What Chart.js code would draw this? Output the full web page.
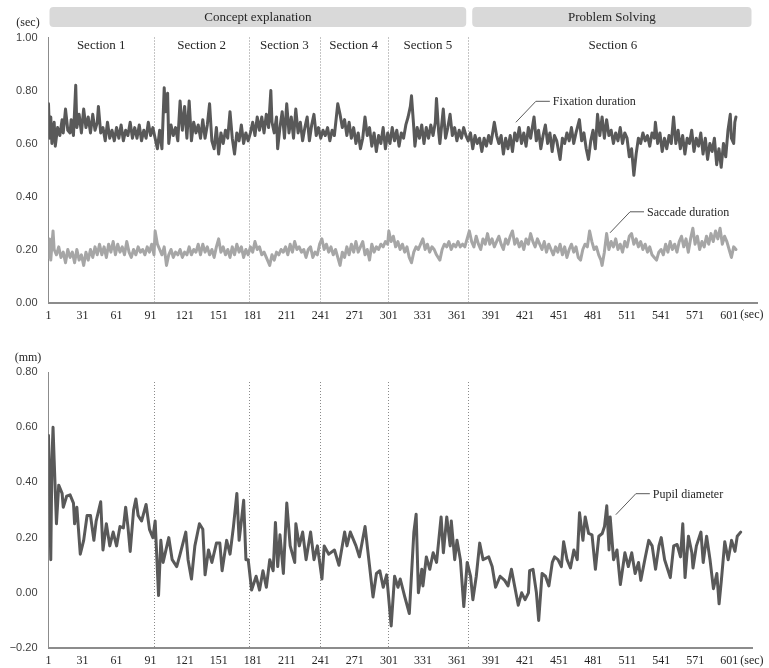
<!DOCTYPE html>
<html>
<head>
<meta charset="utf-8">
<script src="https://cdn.jsdelivr.net/npm/chart.js@4.4.0/dist/chart.umd.min.js"></script>
<style>
  html, body { margin: 0; padding: 0; background: #fff; }
  #wrap { position: relative; width: 769px; height: 668px; }
  #top { position: absolute; left: 0; top: 0; }
  #bottom { position: absolute; left: 0; top: 330px; }
</style>
</head>
<body>
<div id="wrap">
  <canvas id="top" width="769" height="330"></canvas>
  <canvas id="bottom" width="769" height="338"></canvas>
</div>
<script>
// x axis labels (sec) and section boundaries
const xTicks = [1, 31, 61, 91, 121, 151, 181, 211, 241, 271, 301, 331, 361, 391, 421, 451, 481, 511, 541, 571, 601];
const sectionBounds = [94, 178, 240, 300, 371];
const sectionNames = ['Section 1', 'Section 2', 'Section 3', 'Section 4', 'Section 5', 'Section 6'];
const phaseNames = ['Concept explanation', 'Problem Solving'];

// fixation duration (sec)
const fixationSec = [
  1, 2, 3, 4, 6, 7, 9, 11, 13, 14,
  16, 18, 20, 21, 23, 25, 26, 28, 30, 32,
  34, 36, 38, 40, 42, 44, 45, 47, 49, 51,
  53, 55, 57, 59, 61, 63, 65, 67, 69, 71,
  73, 75, 77, 79, 81, 83, 85, 87, 89, 91,
  93, 95, 97, 99, 101, 103, 104, 106, 107, 109,
  111, 113, 115, 117, 119, 121, 123, 125, 127, 129,
  131, 133, 135, 137, 139, 141, 143, 145, 147, 149,
  151, 153, 155, 157, 159, 161, 163, 165, 167, 169,
  171, 173, 175, 177, 179, 181, 183, 185, 187, 189,
  191, 193, 195, 197, 198, 200, 202, 203, 205, 207,
  209, 211, 213, 215, 217, 219, 221, 223, 225, 227,
  229, 231, 233, 235, 237, 239, 241, 243, 245, 247,
  249, 251, 253, 256, 258, 260, 262, 264, 266, 268,
  270, 272, 274, 276, 278, 280, 282, 284, 286, 288,
  290, 292, 294, 296, 298, 300, 302, 304, 306, 308,
  310, 312, 314, 316, 318, 320, 321, 323, 324, 326,
  328, 330, 332, 334, 336, 338, 340, 342, 343, 345,
  346, 349, 351, 353, 355, 357, 359, 361, 363, 365,
  367, 369, 371, 373, 375, 377, 379, 381, 383, 385,
  387, 389, 391, 394, 396, 398, 400, 402, 404, 406,
  408, 410, 412, 414, 416, 418, 420, 422, 424, 426,
  429, 431, 433, 435, 437, 439, 441, 443, 445, 447,
  449, 452, 454, 456, 458, 460, 462, 464, 466, 469,
  471, 473, 475, 477, 479, 481, 483, 485, 487, 489,
  491, 493, 495, 497, 499, 501, 503, 505, 507, 509,
  511, 513, 515, 517, 519, 521, 523, 525, 527, 529,
  531, 533, 535, 536, 538, 540, 542, 544, 546, 548,
  550, 552, 554, 556, 558, 560, 562, 564, 566, 568,
  570, 572, 574, 576, 578, 580, 582, 584, 586, 588,
  590, 592, 594, 596, 598, 600, 602, 603, 605, 606, 607
];
const fixationVal = [
  .75, .62, .70, .60, .68, .59, .66, .63, .69, .64,
  .73, .65, .64, .69, .63, .82, .66, .71, .64, .73,
  .66, .70, .64, .71, .65, .68, .74, .64, .66, .61,
  .68, .62, .65, .61, .66, .62, .67, .61, .65, .63,
  .68, .62, .66, .62, .67, .61, .65, .62, .68, .63,
  .66, .62, .58, .65, .58, .81, .72, .79, .60, .67,
  .63, .66, .61, .76, .65, .74, .62, .76, .61, .68,
  .64, .67, .62, .69, .62, .67, .75, .61, .58, .66,
  .56, .64, .60, .65, .62, .72, .62, .56, .64, .61,
  .67, .60, .64, .61, .64, .68, .63, .70, .65, .70,
  .64, .71, .66, .80, .68, .64, .70, .58, .66, .72,
  .62, .75, .64, .70, .62, .73, .64, .68, .61, .66,
  .70, .61, .67, .71, .63, .66, .62, .65, .63, .66,
  .61, .65, .63, .75, .71, .66, .69, .63, .68, .62,
  .66, .60, .64, .58, .62, .70, .63, .66, .59, .64,
  .57, .63, .60, .66, .58, .64, .60, .66, .61, .65,
  .59, .64, .62, .67, .70, .74, .78, .66, .59, .66,
  .62, .67, .60, .66, .62, .67, .63, .68, .77, .64,
  .60, .73, .62, .66, .71, .63, .66, .61, .65, .62,
  .66, .63, .61, .64, .58, .63, .60, .62, .57, .62,
  .59, .63, .60, .68, .63, .60, .63, .56, .62, .58,
  .63, .57, .64, .61, .66, .60, .64, .59, .66, .62,
  .70, .61, .65, .58, .63, .67, .60, .64, .57, .63,
  .61, .54, .62, .60, .64, .61, .66, .60, .64, .69,
  .61, .64, .58, .54, .61, .65, .58, .71, .63, .70,
  .62, .69, .63, .65, .60, .64, .61, .66, .60, .64,
  .62, .55, .58, .48, .56, .62, .60, .64, .61, .63,
  .59, .64, .62, .68, .60, .64, .57, .62, .58, .63,
  .60, .70, .60, .65, .58, .63, .56, .62, .60, .65,
  .57, .62, .59, .64, .56, .62, .54, .60, .57, .62,
  .52, .58, .51, .60, .55, .65, .71, .62, .60, .68, .70
];

// saccade duration (sec)
const saccadeSec = [
  1, 2, 3, 5, 6, 8, 10, 12, 14, 16,
  18, 20, 22, 24, 26, 28, 30, 32, 34, 36,
  38, 40, 42, 44, 46, 48, 50, 52, 54, 56,
  58, 60, 62, 64, 66, 68, 70, 72, 74, 76,
  78, 80, 82, 84, 86, 88, 90, 92, 94, 95,
  97, 99, 101, 103, 105, 107, 109, 111, 113, 115,
  117, 119, 121, 123, 125, 127, 129, 131, 133, 135,
  137, 139, 141, 143, 145, 147, 149, 151, 153, 155,
  157, 159, 161, 163, 165, 167, 169, 171, 173, 175,
  177, 179, 181, 183, 185, 187, 189, 191, 193, 195,
  196, 198, 200, 202, 204, 206, 208, 210, 212, 214,
  216, 218, 220, 222, 224, 226, 228, 230, 232, 234,
  236, 238, 240, 242, 244, 246, 248, 250, 252, 254,
  256, 258, 260, 262, 264, 266, 268, 270, 272, 274,
  276, 278, 280, 282, 284, 286, 288, 290, 292, 294,
  296, 298, 300, 301, 303, 305, 307, 309, 311, 313,
  315, 317, 319, 321, 323, 325, 327, 329, 331, 333,
  335, 337, 339, 341, 343, 346, 348, 350, 352, 354,
  356, 358, 360, 362, 364, 366, 368, 372, 374, 376,
  378, 380, 382, 384, 386, 388, 390, 392, 394, 396,
  398, 400, 402, 404, 406, 408, 410, 412, 414, 416,
  418, 420, 422, 424, 426, 428, 430, 432, 434, 436,
  438, 440, 442, 444, 446, 448, 450, 452, 454, 456,
  458, 460, 462, 464, 466, 468, 470, 472, 474, 476,
  478, 480, 482, 484, 486, 488, 489, 491, 493, 495,
  497, 499, 501, 503, 505, 507, 509, 511, 513, 515,
  517, 519, 521, 523, 525, 527, 529, 531, 533, 535,
  537, 539, 541, 543, 545, 547, 549, 551, 553, 555,
  557, 559, 561, 563, 565, 567, 569, 571, 573, 575,
  577, 579, 581, 583, 585, 587, 589, 591, 593, 595,
  597, 599, 601, 603, 605, 607
];
const saccadeVal = [
  .17, .24, .16, .27, .20, .18, .21, .17, .19, .15,
  .20, .17, .19, .15, .20, .16, .18, .14, .19, .16,
  .20, .17, .21, .18, .22, .18, .21, .17, .22, .19,
  .23, .18, .22, .19, .21, .18, .23, .19, .17, .20,
  .18, .21, .19, .20, .18, .21, .19, .22, .18, .27,
  .22, .20, .18, .21, .14, .18, .20, .17, .19, .18,
  .20, .17, .19, .18, .21, .18, .20, .19, .22, .18,
  .22, .19, .21, .18, .20, .17, .21, .24, .19, .21,
  .18, .20, .17, .21, .18, .22, .19, .21, .17, .20,
  .18, .21, .19, .23, .20, .21, .18, .19, .17, .15,
  .14, .18, .16, .19, .18, .20, .19, .21, .18, .22,
  .19, .23, .20, .21, .19, .20, .17, .20, .21, .17,
  .19, .18, .22, .24, .20, .22, .19, .21, .18, .20,
  .17, .14, .19, .17, .21, .18, .22, .19, .23, .19,
  .21, .23, .18, .20, .16, .22, .19, .21, .20, .22,
  .21, .23, .22, .27, .23, .25, .21, .23, .20, .22,
  .19, .21, .17, .15, .19, .21, .20, .22, .24, .20,
  .22, .19, .21, .20, .18, .16, .20, .22, .21, .23,
  .20, .22, .21, .23, .21, .22, .21, .27, .23, .21,
  .25, .22, .20, .24, .22, .26, .22, .24, .21, .23,
  .25, .22, .20, .24, .22, .25, .27, .22, .24, .21,
  .23, .20, .24, .22, .26, .23, .21, .24, .22, .20,
  .23, .19, .22, .20, .18, .21, .19, .22, .18, .21,
  .17, .20, .22, .19, .21, .17, .16, .20, .22, .21,
  .27, .23, .20, .21, .18, .16, .14, .19, .26, .20,
  .23, .21, .24, .20, .22, .19, .23, .21, .25, .26,
  .22, .24, .21, .23, .20, .22, .19, .21, .18, .17,
  .16, .19, .20, .18, .22, .19, .23, .20, .22, .19,
  .23, .25, .21, .24, .19, .24, .28, .22, .25, .20,
  .23, .21, .25, .22, .26, .23, .27, .24, .28, .22,
  .25, .23, .20, .17, .21, .20
];

// pupil diameter (mm)
const pupilSec = [
  1, 2, 3, 4, 5, 6, 8, 10, 13, 14,
  17, 20, 23, 24, 26, 29, 32, 35, 38, 41,
  43, 47, 49, 52, 55, 58, 61, 64, 67, 69,
  71, 73, 76, 78, 80, 83, 87, 90, 93, 95,
  98, 100, 102, 107, 110, 114, 117, 122, 124, 127,
  130, 134, 137, 139, 142, 145, 149, 152, 154, 158,
  161, 164, 167, 169, 171, 173, 175, 177, 180, 184,
  187, 190, 193, 196, 199, 201, 203, 205, 208, 211,
  214, 218, 219, 222, 225, 228, 232, 235, 238, 242,
  244, 248, 253, 257, 262, 264, 267, 272, 275, 280,
  284, 287, 290, 293, 296, 299, 303, 306, 309, 311,
  315, 319, 323, 325, 327, 330, 331, 334, 337, 340,
  343, 347, 349, 352, 355, 356, 359, 361, 364, 367,
  370, 373, 375, 378, 381, 384, 389, 392, 395, 399,
  403, 406, 409, 412, 415, 418, 421, 424, 425, 428,
  431, 433, 436, 439, 442, 445, 447, 450, 453, 455,
  458, 461, 464, 467, 469, 472, 474, 477, 480, 483,
  486, 489, 491, 493, 495, 496, 499, 502, 505, 509,
  512, 515, 518, 521, 523, 527, 530, 533, 536, 539,
  541, 544, 549, 552, 555, 558, 560, 562, 565, 568,
  569, 572, 576, 578, 581, 584, 587, 590, 592, 594,
  597, 600, 603, 606, 608, 611
];
const pupilVal = [
  .57, .34, .12, .48, .60, .48, .25, .39, .36, .31,
  .35, .355, .325, .25, .31, .14, .19, .28, .28, .19,
  .26, .33, .155, .25, .17, .22, .17, .24, .235, .31,
  .24, .15, .30, .34, .28, .26, .32, .23, .20, .26,
  -.01, .19, .11, .20, .12, .095, .14, .22, .12, .05,
  .17, .25, .23, .065, .155, .11, .18, .18, .08, .19,
  .14, .24, .36, .19, .26, .335, .12, .12, .01, .06,
  .01, .08, .02, .12, .08, .255, .095, .21, .07, .325,
  .17, .11, .25, .17, .22, .12, .22, .12, .17, .05,
  .17, .14, .155, .10, .22, .17, .22, .17, .13, .24,
  .095, -.015, .07, .08, .02, .065, -.12, .06, .02, .05,
  -.015, -.075, .22, .285, .00, .085, .025, .13, .085, .145,
  .11, .275, .145, .275, .17, .26, .12, .19, .12, -.05,
  .11, .06, -.025, .06, .18, .12, .13, .095, .02, .06,
  .045, .025, .085, .02, -.045, .00, -.025, .00, .08, .085,
  .00, -.10, .07, .06, .025, .11, .13, .12, .095, .185,
  .12, .09, .155, .12, .29, .19, .275, .215, .21, .085,
  .205, .215, .24, .315, .155, .275, .12, .155, .03, .145,
  .095, .145, .07, .11, .045, .13, .19, .17, .085, .17,
  .20, .12, .055, .17, .175, .13, .25, .055, .205, .145,
  .09, .17, .22, .11, .205, .12, .015, .07, -.04, .045,
  .185, .12, .19, .15, .205, .22
];

const serif = '"Liberation Serif", "DejaVu Serif", serif';
const sans = '"Liberation Sans", Arial, sans-serif';

const pts = (xs, ys) => xs.map((x, i) => ({x: x, y: ys[i]}));
const fmt = v => (v < 0 ? '\u2212' : '') + Math.abs(v).toFixed(2);

// section lines, headers, units and callouts
const overlay = {
    id: 'overlay',
    beforeDatasetsDraw(chart, args, opts) {
        const {ctx, chartArea: a, scales: {x}} = chart;
        ctx.save();
        ctx.strokeStyle = '#8a8a8a';
        ctx.lineWidth = 1;
        ctx.setLineDash([1, 2]);
        sectionBounds.forEach(s => {
            const px = Math.round(x.getPixelForValue(s)) + 0.5;
            ctx.beginPath();
            ctx.moveTo(px, a.top + opts.lineTop);
            ctx.lineTo(px, a.bottom);
            ctx.stroke();
        });
        ctx.restore();
    },
    afterDraw(chart, args, opts) {
        const {ctx, chartArea: a, scales: {x, y}} = chart;
        ctx.save();
        ctx.fillStyle = '#262626';
        ctx.font = '12px ' + serif;
        ctx.textBaseline = 'middle';

        // units
        ctx.textAlign = 'center';
        ctx.fillText(opts.yUnit, 28, opts.yUnitY);
        ctx.textAlign = 'left';
        ctx.fillText('(sec)', x.getPixelForValue(601) + 11, a.bottom + 12.5);

        if (opts.headers) {
            const b = x.getPixelForValue(sectionBounds[4]);
            const bars = [
                [x.getPixelForValue(1) + 1, b - 2],
                [b + 4, a.right - 6]
            ];
            ctx.font = '13px ' + serif;
            ctx.textAlign = 'center';
            bars.forEach((r, i) => {
                ctx.fillStyle = '#d9d9d9';
                ctx.beginPath();
                ctx.roundRect(r[0], 7, r[1] - r[0], 20, 4);
                ctx.fill();
                ctx.fillStyle = '#262626';
                ctx.fillText(phaseNames[i], (r[0] + r[1]) / 2, 17.5);
            });
            const edges = [x.min].concat(sectionBounds, [x.max]);
            sectionNames.forEach((n, i) => {
                const cx = (x.getPixelForValue(edges[i]) + x.getPixelForValue(edges[i + 1])) / 2;
                ctx.fillText(n, cx, 45.5);
            });
        }

        // callouts with leader lines
        ctx.font = '12px ' + serif;
        ctx.textAlign = 'left';
        ctx.strokeStyle = '#595959';
        ctx.lineWidth = 1;
        opts.callouts.forEach(c => {
            const px = x.getPixelForValue(c.x);
            const py = y.getPixelForValue(c.y);
            ctx.beginPath();
            ctx.moveTo(px, py);
            ctx.lineTo(px + 20, py - 21);
            ctx.lineTo(px + 34, py - 21);
            ctx.stroke();
            ctx.fillStyle = '#262626';
            ctx.fillText(c.text, px + 37, py - 20);
        });
        ctx.restore();
    }
};

const makeScales = (xMax, xHeight, yMin, yMax) => ({
    x: {
        type: 'linear',
        min: 1,
        max: xMax,
        afterFit: s => { s.height = xHeight; },
        afterBuildTicks: s => { s.ticks = xTicks.map(v => ({value: v})); },
        grid: {display: false, drawTicks: false},
        border: {display: true, color: '#8c8c8c', width: 2},
        ticks: {
            autoSkip: false,
            maxRotation: 0,
            padding: 6,
            color: '#262626',
            font: {family: serif, size: 12},
            callback: v => String(v)
        }
    },
    y: {
        min: yMin,
        max: yMax,
        afterFit: s => { s.width = 48.5; },
        grid: {display: false, drawTicks: false},
        border: {display: true, color: '#8c8c8c', width: 1},
        ticks: {
            stepSize: 0.2,
            padding: 11,
            color: '#404040',
            font: {family: sans, size: 11},
            callback: fmt
        }
    }
});

const lineStyle = {
    borderWidth: 3,
    pointRadius: 0,
    tension: 0,
    borderJoinStyle: 'round',
    borderCapStyle: 'round'
};

new Chart(document.getElementById('top'), {
    type: 'line',
    data: {
        datasets: [
            Object.assign({label: 'Fixation duration', data: pts(fixationSec, fixationVal), borderColor: '#595959'}, lineStyle),
            Object.assign({label: 'Saccade duration', data: pts(saccadeSec, saccadeVal), borderColor: '#a6a6a6'}, lineStyle)
        ]
    },
    options: {
        responsive: false,
        animation: false,
        layout: {padding: {top: 37.5, right: 11.5, left: 0, bottom: 0}},
        scales: makeScales(626, 27.5, 0, 1),
        plugins: {
            legend: {display: false},
            tooltip: {enabled: false},
            overlay: {
                lineTop: 0,
                headers: true,
                yUnit: '(sec)',
                yUnitY: 23,
                callouts: [
                    {text: 'Fixation duration', x: 413, y: 0.68},
                    {text: 'Saccade duration', x: 496, y: 0.263}
                ]
            }
        }
    },
    plugins: [overlay]
});

new Chart(document.getElementById('bottom'), {
    type: 'line',
    data: {
        datasets: [
            Object.assign({label: 'Pupil diameter', data: pts(pupilSec, pupilVal), borderColor: '#595959'}, lineStyle)
        ]
    },
    options: {
        responsive: false,
        animation: false,
        layout: {padding: {top: 42, right: 17, left: 0, bottom: 0}},
        scales: makeScales(621, 20, -0.2, 0.8),
        plugins: {
            legend: {display: false},
            tooltip: {enabled: false},
            overlay: {
                lineTop: 10,
                headers: false,
                yUnit: '(mm)',
                yUnitY: 28,
                callouts: [
                    {text: 'Pupil diameter', x: 501, y: 0.283}
                ]
            }
        }
    },
    plugins: [overlay]
});
</script>
</body>
</html>
